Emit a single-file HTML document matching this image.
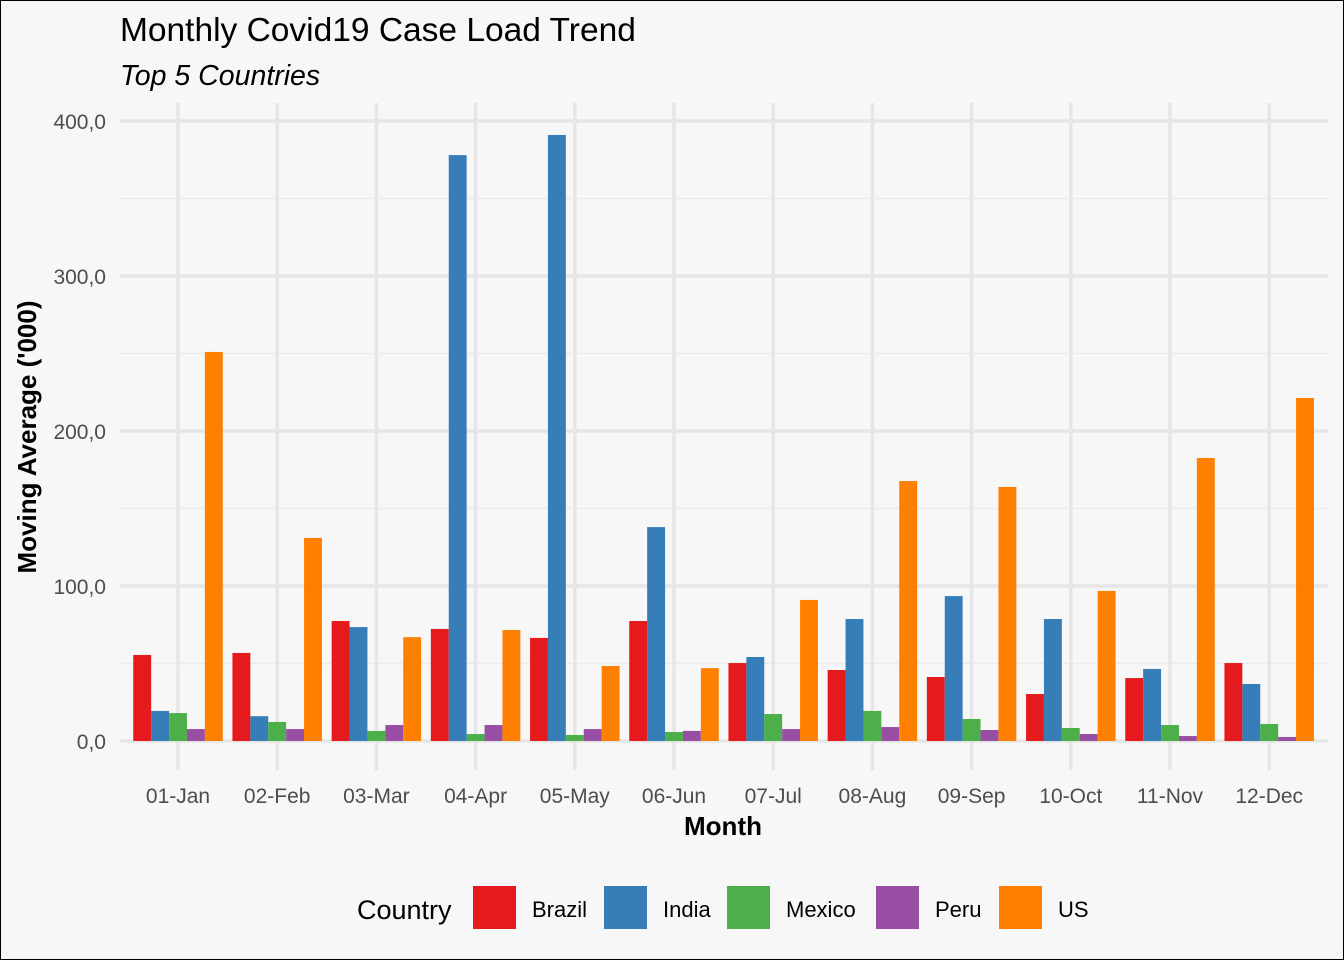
<!DOCTYPE html>
<html><head><meta charset="utf-8"><style>
html,body{margin:0;padding:0;background:#f7f7f7;}
svg{display:block;font-family:"Liberation Sans",Arial,sans-serif;}
</style></head><body>
<svg id="chart" width="1344" height="960" viewBox="0 0 1344 960">
<rect x="0.5" y="0.5" width="1343" height="959" fill="#f7f7f7" stroke="#000" stroke-width="1"/>
<text x="120" y="41" font-size="33.5" fill="#000">Monthly Covid19 Case Load Trend</text>
<text x="120" y="85" font-size="28.5" font-style="italic" fill="#000">Top 5 Countries</text>
<g id="grid"></g><g id="bars"></g><g id="axes"></g>
<text x="723" y="835" font-size="26" font-weight="bold" text-anchor="middle">Month</text>
<text transform="translate(36,437) rotate(-90)" font-size="26" font-weight="bold" text-anchor="middle">Moving Average ('000)</text>
<g id="legend">
<text x="357" y="919" font-size="27">Country</text>
</g>
</svg>
<script>
const months=["01-Jan","02-Feb","03-Mar","04-Apr","05-May","06-Jun","07-Jul","08-Aug","09-Sep","10-Oct","11-Nov","12-Dec"];
const countries=["Brazil","India","Mexico","Peru","US"];
const colors=["#e41a1c","#377eb8","#4daf4a","#984ea3","#ff7f00"];
const brazil=[55.5,56.8,77.4,72.3,66.5,77.4,50.3,45.8,41.3,30.3,40.6,50.3];
const india=[19.4,16,73.5,378,391,138,54.2,78.7,93.5,78.7,46.5,36.8];
const mexico=[18,12.3,6.5,4.5,3.9,5.8,17.4,19.4,14.2,8.4,10.3,11];
const peru=[7.7,7.7,10.3,10.3,7.7,6.5,7.7,9,7.1,4.5,3.2,2.6];
const us=[251,131,67,71.6,48.4,47,91,167.7,163.9,96.8,182.6,221.3];
const yTicks=[0,100,200,300,400];
const yTickLabels=["0,0","100,0","200,0","300,0","400,0"];
const series=[brazil,india,mexico,peru,us];
const NS="http://www.w3.org/2000/svg";
const plotLeft=120,plotRight=1328,plotTop=103,plotBottom=770;
const yScale=v=>741-v*1.55;
const xScale=i=>178+i*99.2;
function mk(tag,attrs,parent){const e=document.createElementNS(NS,tag);for(const k in attrs)e.setAttribute(k,attrs[k]);parent.appendChild(e);return e;}
const gridG=document.getElementById('grid'),barsG=document.getElementById('bars'),axesG=document.getElementById('axes'),legendG=document.getElementById('legend');
for(let t=50;t<400;t+=100){const l=mk('line',{x1:plotLeft,x2:plotRight,y1:yScale(t),y2:yScale(t),stroke:'#ebebeb','stroke-width':1.5},gridG);

}
yTicks.forEach((t,i)=>{const l=mk('line',{x1:plotLeft,x2:plotRight,y1:yScale(t),y2:yScale(t),stroke:'#e6e6e6','stroke-width':3.5},gridG);


const tx=mk('text',{x:106,y:yScale(t)+8,'font-size':21,fill:'#4d4d4d','text-anchor':'end'},axesG);tx.textContent=yTickLabels[i];

});
months.forEach((m,i)=>{const l=mk('line',{x1:xScale(i),x2:xScale(i),y1:plotTop,y2:plotBottom,stroke:'#e6e6e6','stroke-width':3.5},gridG);


const tx=mk('text',{x:xScale(i),y:803,'font-size':21,fill:'#4d4d4d','text-anchor':'middle'},axesG);tx.textContent=m;

});
const bw=17.9;
series.forEach((s,k)=>{s.forEach((v,i)=>{const bx=xScale(i)-2.5*bw+k*bw;
const r=mk('rect',{x:bx,y:yScale(v),width:bw,height:yScale(0)-yScale(v),fill:colors[k]},barsG);

});});
const lx=[473,604,727,876,999];
countries.forEach((c,k)=>{const r=mk('rect',{x:lx[k],y:886,width:43,height:43,fill:colors[k]},legendG);


const t=mk('text',{x:lx[k]+59,y:917,'font-size':22},legendG);t.textContent=c;

});
</script>
</body></html>
